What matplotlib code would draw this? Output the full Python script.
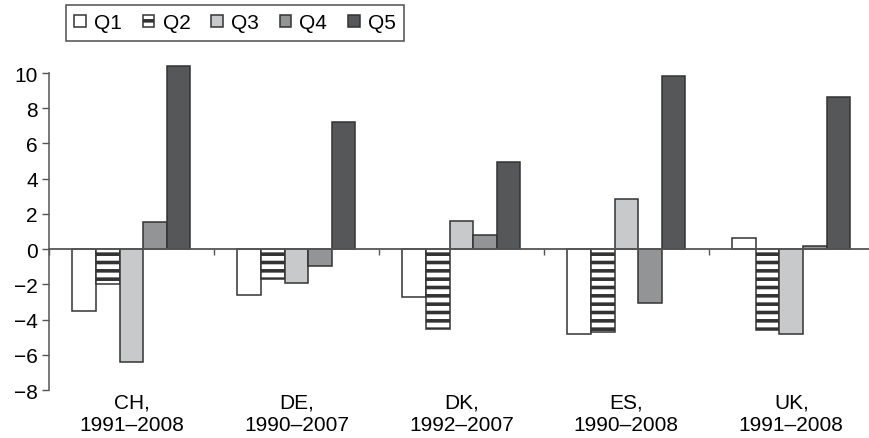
import numpy as np
import matplotlib
matplotlib.use("Agg")
import matplotlib.pyplot as plt

plt.rcParams['font.family'] = ['Liberation Sans', 'DejaVu Sans']
plt.rcParams['hatch.linewidth'] = 2.6
plt.rcParams['hatch.color'] = '#1a1a1a'

countries = ['CH,\n1991\u20132008', 'DE,\n1990\u20132007', 'DK,\n1992\u20132007',
             'ES,\n1990\u20132008', 'UK,\n1991\u20132008']
quintiles = ['Q1', 'Q2', 'Q3', 'Q4', 'Q5']
q1 = [-3.5, -2.6, -2.7, -4.83, 0.61]
q2 = [-2.0, -1.7, -4.55, -4.72, -4.6]
q3 = [-6.4, -1.9, 1.57, 2.86, -4.83]
q4 = [1.55, -0.95, 0.81, -3.07, 0.2]
q5 = [10.38, 7.2, 4.92, 9.81, 8.62]
yticks = [-8, -6, -4, -2, 0, 2, 4, 6, 8, 10]

series = [q1, q2, q3, q4, q5]
fills = ['white', 'white', '#c8c9ca', '#939496', '#555759']
hatches = [None, '--', None, None, None]

fig = plt.figure(figsize=(8.7, 4.39), dpi=100)
ax = fig.add_axes([0.0563, 0.1093, 0.948, 0.7221])

n = len(countries)
x = np.arange(n) + 0.5
w = 0.143
for i, (vals, fc, h) in enumerate(zip(series, fills, hatches)):
    ax.bar(x + (i - 2) * w, vals, width=w, color=fc, edgecolor='#333333',
           linewidth=1.1, hatch=h, label=quintiles[i], clip_on=False, zorder=2)

ax.set_xlim(0, n)
ax.set_ylim(-8, 10)
ax.set_yticks(yticks)
ax.set_yticklabels(['\u2212%d' % -t if t < 0 else str(t) for t in yticks], fontsize=15)
ax.tick_params(axis='y', direction='out', length=5, width=1, color='#555555', pad=3)

for s in ['top', 'right']:
    ax.spines[s].set_visible(False)
ax.spines['left'].set_color('#555555')
ax.spines['left'].set_linewidth(1.1)
ax.spines['bottom'].set_position(('data', 0))
ax.spines['bottom'].set_color('#555555')
ax.spines['bottom'].set_linewidth(1.3)
ax.spines['bottom'].set_zorder(3)
ax.set_xticks(np.arange(n + 1))
ax.set_xticklabels([])
ax.tick_params(axis='x', direction='out', length=4, width=1, color='#555555')

for xi, lab in zip(x, countries):
    ax.text(xi, -8.15, lab, ha='center', va='top', fontsize=15, linespacing=1.2,
            clip_on=False)

leg = ax.legend(loc='upper left', bbox_to_anchor=(66 / 870, 1 - 6 / 439),
                bbox_transform=fig.transFigure, ncol=5, fontsize=15, frameon=True,
                fancybox=False, edgecolor='#222222', handlelength=0.55,
                handleheight=0.55, handletextpad=0.4, columnspacing=1.0,
                borderpad=0.4, borderaxespad=0)
leg.get_frame().set_linewidth(1.1)

fig.savefig('out.png', dpi=100)
